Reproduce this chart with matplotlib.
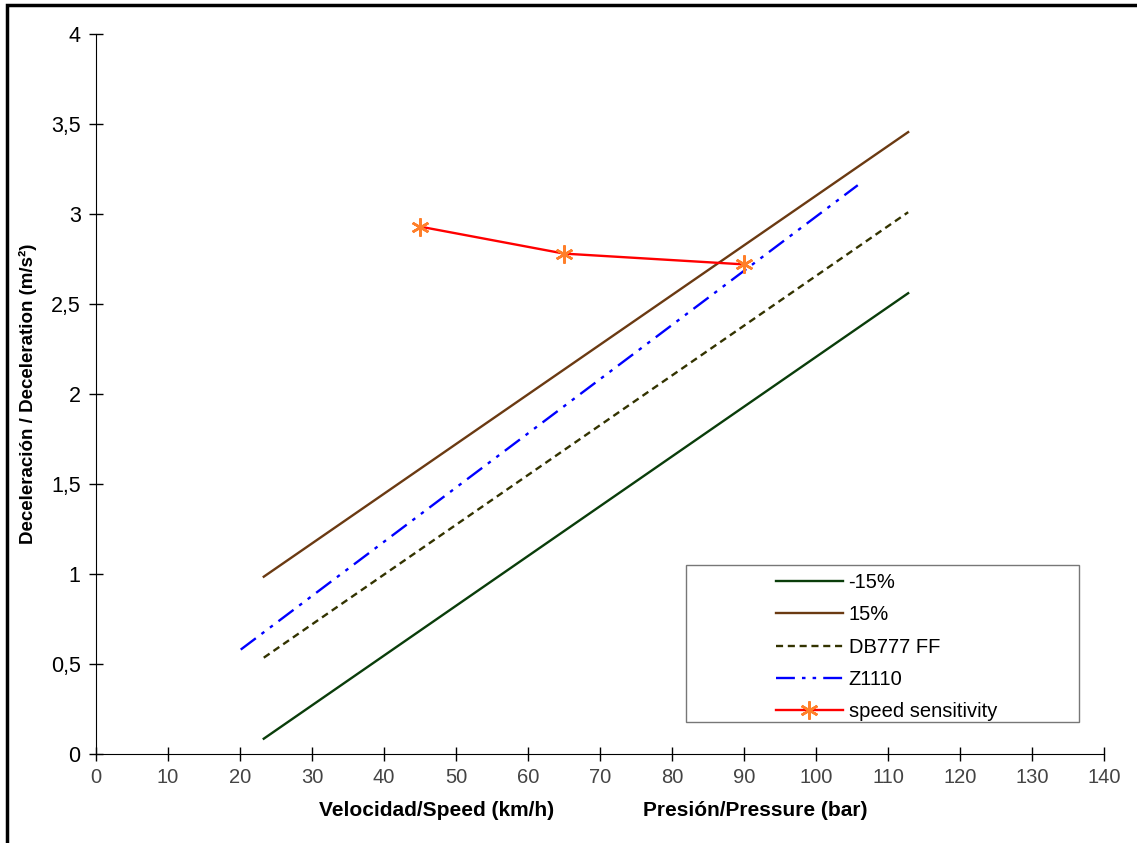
import matplotlib
import matplotlib.pyplot as plt
from matplotlib.patches import Rectangle
from matplotlib.ticker import FuncFormatter
matplotlib.use('Agg')

plt.rcParams['font.family'] = ['Liberation Sans', 'DejaVu Sans']

# data
x_lines = [23.3, 112.8]
minus15 = [0.085, 2.56]
plus15 = [0.985, 3.455]
db777 = [0.535, 3.01]
x_z1110 = [20.1, 105.8]
z1110 = [0.58, 3.16]
speed_x = [45, 65, 90]
speed_y = [2.93, 2.78, 2.72]

W, H = 1137, 843
fig = plt.figure(figsize=(W / 100, H / 100), dpi=100)
ax = fig.add_axes([96 / W, 1 - 754 / H, 1008 / W, 720 / H])

# figure frame (left and top visible)
fig.patches.append(Rectangle((7 / W, -0.1), 1.2, 1 - 5 / H + 0.1,
                             transform=fig.transFigure, fill=False,
                             edgecolor='black', linewidth=2.5))
# legend frame
ax.add_patch(Rectangle((686 / W, 1 - 722 / H), 393 / W, 157 / H,
                       transform=fig.transFigure, clip_on=False,
                       facecolor='white', edgecolor='#777777',
                       linewidth=1, zorder=4))

ax.plot(x_lines, minus15, color='#0a3d0a', lw=1.7, label='-15%')
ax.plot(x_lines, plus15, color='#6b3a12', lw=1.7, label='15%')
ax.plot(x_lines, db777, color='#333300', lw=1.7, ls=(0, (3, 2)), label='DB777 FF')
ax.plot(x_z1110, z1110, color='#0000ff', lw=1.7,
        ls=(0, (8, 3, 1.5, 3, 1.5, 3)), label='Z1110')
ax.plot(speed_x, speed_y, color='#ff0000', lw=1.7, marker=(6, 2, 0),
        markersize=13, markeredgecolor='#ff7f2a', markeredgewidth=1.8,
        label='speed sensitivity')

ax.set_xlim(0, 140)
ax.set_ylim(0, 4)
ax.set_xticks(range(0, 141, 10))
ax.set_yticks([0, 0.5, 1, 1.5, 2, 2.5, 3, 3.5, 4])
ax.yaxis.set_major_formatter(FuncFormatter(lambda v, p: f"{v:g}".replace('.', ',')))
ax.spines['top'].set_visible(False)
ax.spines['right'].set_visible(False)
ax.tick_params(axis='both', direction='inout', length=10, width=1)
ax.tick_params(axis='x', labelcolor='#444444', labelsize=14.5, pad=5)
ax.tick_params(axis='y', labelsize=15.5, pad=6)

ax.set_ylabel('Deceleración / Deceleration (m/s²)', fontsize=13.5,
              fontweight='bold', labelpad=10)
fig.text(437 / W, 1 - 810 / H, 'Velocidad/Speed (km/h)', fontsize=15,
         fontweight='bold', ha='center', va='center')
fig.text(755 / W, 1 - 810 / H, 'Presión/Pressure (bar)', fontsize=15,
         fontweight='bold', ha='center', va='center')

leg = ax.legend(loc='upper left', bbox_to_anchor=(770 / W, 1 - 567 / H),
                bbox_transform=fig.transFigure, frameon=False,
                fontsize=14.5, handlelength=3.3, borderpad=0.3,
                labelspacing=0.66, handletextpad=0.3, borderaxespad=0)
leg.set_zorder(6)

fig.savefig('out.png', dpi=100)
